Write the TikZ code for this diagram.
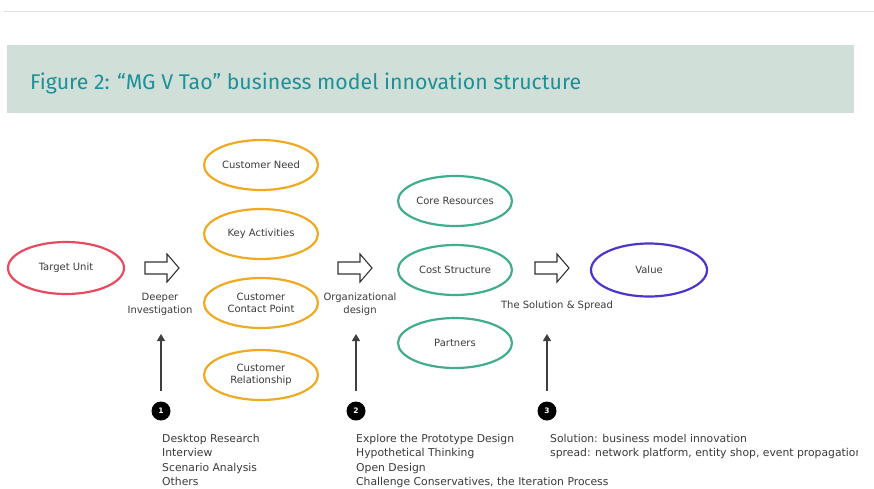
\documentclass[tikz,border=0pt]{standalone}
\usepackage{fontspec}
\setmainfont{DejaVu Sans}
\newfontfamily\titlefont{Fira Sans}
\usetikzlibrary{shapes.geometric,arrows.meta}
\definecolor{titlebg}{HTML}{D0E0D8}
\definecolor{titlefg}{HTML}{1E9098}
\definecolor{ored}{HTML}{E84A60}
\definecolor{oorange}{HTML}{F0AA22}
\definecolor{ogreen}{HTML}{40AE8E}
\definecolor{oblue}{HTML}{4A36CC}
\definecolor{rulegray}{HTML}{DCE2E0}
\definecolor{txt}{HTML}{3A3A3A}
\begin{document}
\begin{tikzpicture}[x=1pt,y=-1pt,
  oval/.style={ellipse, draw=#1, line width=2.2pt, minimum width=114pt, minimum height=50pt,
    inner sep=0pt, align=center, font=\fontsize{10}{12}\selectfont, text=txt},
  hollowst/.style={draw=black!80, line width=1.1pt, fill=white, line join=miter},
  lbl/.style={align=center, font=\fontsize{10}{13}\selectfont, text=txt, inner sep=0pt},
  lst/.style={align=left, anchor=north west, font=\fontsize{10.8}{14.3}\selectfont, text=txt, inner sep=0pt},
  numdot/.style={circle, fill=black, minimum size=19pt, inner sep=0pt, text=white, font=\fontsize{7.5}{7.5}\selectfont\bfseries},
  upar/.style={draw=black!75, line width=1.2pt, -{Triangle[length=7pt,width=8pt]}}
]
\useasboundingbox (0,0) rectangle (874,488);
% header
\draw[rulegray, line width=1pt] (4,11) -- (874,11);
\fill[titlebg] (7,45) rectangle (854,113);
\node[anchor=base west, inner sep=0pt, text=titlefg, font=\titlefont\fontsize{21.3}{24}\selectfont] (title) at (30,89) {Figure 2: “MG V Tao” business model innovation structure};

% ellipses
\node[oval=ored, minimum width=116pt, minimum height=52pt] (target) at (66,268) {Target Unit};
\node[oval=oorange] (need) at (261,165) {Customer Need};
\node[oval=oorange] (key) at (261,234) {Key Activities};
\node[oval=oorange] (contact) at (261,303) {Customer\\Contact Point};
\node[oval=oorange] (relation) at (261,375) {Customer\\Relationship};
\node[oval=ogreen] (core) at (455,201) {Core Resources};
\node[oval=ogreen] (cost) at (455,270) {Cost Structure};
\node[oval=ogreen] (partners) at (455,343) {Partners};
\node[oval=oblue, minimum width=116pt, minimum height=53pt] (value) at (649,270) {Value};

% hollow arrows
\coordinate (h1) at (162,268);
\coordinate (h2) at (355,268);
\coordinate (h3) at (552,268);
\foreach \h in {h1,h2,h3}{
  \draw[hollowst, shift={(\h)}] (-17,-6) -- (5,-6) -- (5,-14) -- (17,0) -- (5,14) -- (5,6) -- (-17,6) -- cycle;
}

% step labels
\node[lbl] (l1) at (160,304) {Deeper\\Investigation};
\node[lbl] (l2) at (360,304) {Organizational\\design};
\node[lbl] (l3) at (557,306) {The Solution \& Spread};

% numbered dots and arrows
\node[numdot] (c1) at (161,411) {1};
\node[numdot] (c2) at (356,411) {2};
\node[numdot] (c3) at (547,411) {3};
\coordinate (t1) at (161,334);
\coordinate (t2) at (356,334);
\coordinate (t3) at (547,334);
\coordinate (s1) at (161,391);
\coordinate (s2) at (356,391);
\coordinate (s3) at (547,391);
\draw[upar] (s1) -- (t1);
\draw[upar] (s2) -- (t2);
\draw[upar] (s3) -- (t3);

% lists
\begin{scope}
\clip (0,120) rectangle (857,488);
\node[lst] (list1) at (162,434) {Desktop Research\\Interview\\Scenario Analysis\\Others};
\node[lst] (list2) at (356,434) {Explore the Prototype Design\\Hypothetical Thinking\\Open Design\\Challenge Conservatives, the Iteration Process};
\node[lst] (list3) at (550,434) {Solution: business model innovation\\spread: network platform, entity shop, event propagation};
\end{scope}
\end{tikzpicture}
\end{document}
